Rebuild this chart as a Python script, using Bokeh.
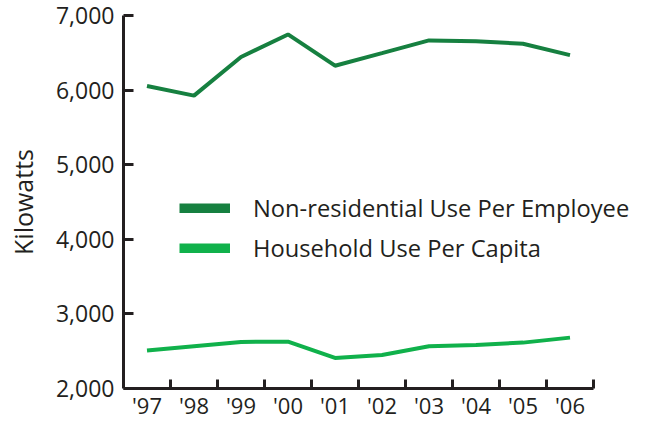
from bokeh.plotting import figure
from bokeh.models import Range1d, FixedTicker, NumeralTickFormatter, Legend, LegendItem, ColumnDataSource
from bokeh.embed import file_html
from bokeh.resources import INLINE

years = ["'97", "'98", "'99", "'00", "'01", "'02", "'03", "'04", "'05", "'06"]
nonres = [6055, 5926, 6443, 6746, 6327, 6496, 6666, 6656, 6622, 6469]
household = [2508, 2566, 2624, 2628, 2410, 2450, 2566, 2584, 2615, 2682]
y_ticks = [2000, 3000, 4000, 5000, 6000, 7000]

FONT = "Open Sans"
AXIS_COLOR = "#231f20"
DARK = "#168040"
LIGHT = "#10b14b"

n = len(years)
xpos = [i + 0.5 for i in range(n)]
src = ColumnDataSource(dict(x=xpos, nonres=nonres, household=household))

# frame extends to the right of the last category so the legend text is not clipped;
# the x axis line is bounded to the categories
p = figure(width=645, height=422, output_backend="svg", toolbar_location=None,
           x_range=Range1d(0, n + 1), y_range=Range1d(2000, 7000),
           min_border_left=123, min_border_right=5, min_border_top=15, min_border_bottom=33)
p.outline_line_color = None
p.xgrid.visible = False
p.ygrid.visible = False
p.background_fill_color = "white"

r1 = p.line("x", "nonres", source=src, line_color=DARK, line_width=4)
r2 = p.line("x", "household", source=src, line_color=LIGHT, line_width=4)

# legend swatches: thick, hidden copies of the series
l1 = p.line("x", "nonres", source=src, line_color=DARK, line_width=10, line_cap="butt", visible=False)
l2 = p.line("x", "household", source=src, line_color=LIGHT, line_width=10, line_cap="butt", visible=False)

legend = Legend(items=[LegendItem(label="Non-residential Use Per Employee", renderers=[l1]),
                       LegendItem(label="Household Use Per Capita", renderers=[l2])],
                location=(56, 124), glyph_width=51, glyph_height=10, label_standoff=23,
                spacing=8, padding=0, margin=0, border_line_color=None,
                background_fill_alpha=0, inactive_fill_alpha=0,
                label_text_font=FONT, label_text_font_size="23.7px",
                label_text_color=AXIS_COLOR)
p.add_layout(legend, "center")

# x axis
xa = p.xaxis[0]
xa.bounds = (0, n)
xa.ticker = FixedTicker(ticks=xpos, minor_ticks=list(range(1, n + 1)))
xa.major_label_overrides = {x: y for x, y in zip(xpos, years)}
xa.major_tick_in = 0
xa.major_tick_out = 0
xa.minor_tick_in = 9
xa.minor_tick_out = 0
xa.minor_tick_line_width = 3
xa.minor_tick_line_color = AXIS_COLOR
xa.axis_line_width = 3
xa.axis_line_color = AXIS_COLOR
xa.major_label_standoff = 1
xa.major_label_text_font = FONT
xa.major_label_text_font_size = "22px"
xa.major_label_text_color = AXIS_COLOR

ya = p.yaxis[0]
ya.ticker = FixedTicker(ticks=y_ticks, minor_ticks=[])
ya.formatter = NumeralTickFormatter(format="0,0")
ya.major_tick_in = 10
ya.major_tick_out = 0
ya.major_tick_line_width = 3
ya.major_tick_line_color = AXIS_COLOR
ya.minor_tick_in = 0
ya.minor_tick_out = 0
ya.axis_line_width = 3
ya.axis_line_color = AXIS_COLOR
ya.major_label_standoff = 9
ya.major_label_text_font = FONT
ya.major_label_text_font_size = "23px"
ya.major_label_text_color = AXIS_COLOR
ya.axis_label = "Kilowatts"
ya.axis_label_text_font = FONT
ya.axis_label_text_font_size = "25px"
ya.axis_label_text_font_style = "normal"
ya.axis_label_text_color = AXIS_COLOR
ya.axis_label_standoff = 13

open("out.html", "w").write(file_html(p, INLINE))
